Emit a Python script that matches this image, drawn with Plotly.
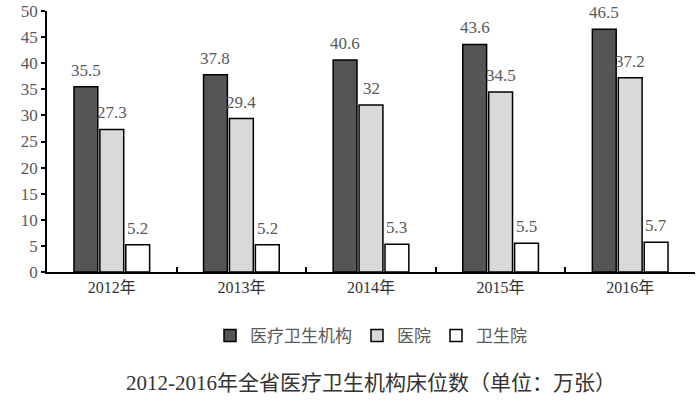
import plotly.graph_objects as go

years = ["2012年", "2013年", "2014年", "2015年", "2016年"]
series_names = ["医疗卫生机构", "医院", "卫生院"]
inst = [35.5, 37.8, 40.6, 43.6, 46.5]
hosp = [27.3, 29.4, 32, 34.5, 37.2]
town = [5.2, 5.2, 5.3, 5.5, 5.7]
colors = ["#555555", "#d9d9d9", "#ffffff"]

font_main = "Liberation Serif, Noto Sans CJK SC, serif"
gray = "#595959"

fig = go.Figure()
for name, vals, c in zip(series_names, [inst, hosp, town], colors):
    fig.add_trace(go.Bar(
        x=years, y=vals, name=name,
        marker=dict(color=c, line=dict(color="#000000", width=1.5)),
    ))

# value labels placed above each bar (offset within the group)
bargap = 0.4
group_px = 648 / len(years) * (1 - bargap)
slot = group_px / 3
annos = []
for i, vals in enumerate([inst, hosp, town]):
    for yr, v in zip(years, vals):
        annos.append(dict(x=yr, y=v, xref="x", yref="y", text=str(v),
                          showarrow=False, xanchor="center", yanchor="bottom",
                          xshift=(i - 1) * slot, yshift=5,
                          font=dict(family=font_main, size=17, color=gray)))
annos.append(dict(text="2012-2016年全省医疗卫生机构床位数（单位：万张）",
                  xref="paper", yref="paper", x=0.5, y=-0.425,
                  xanchor="center", yanchor="middle", showarrow=False,
                  font=dict(family=font_main, size=21, color="#333333")))

fig.update_layout(
    width=700, height=404,
    margin=dict(l=47, r=5, t=11, b=132, autoexpand=False),
    paper_bgcolor="white", plot_bgcolor="white",
    barmode="group", bargap=bargap, bargroupgap=0.08,
    font=dict(family=font_main, size=16, color=gray),
    showlegend=True,
    legend=dict(orientation="h", x=0.5, xanchor="center", y=-0.245, yanchor="middle",
                font=dict(family=font_main, size=17, color=gray),
                itemwidth=30, traceorder="normal"),
    annotations=annos,
)
fig.update_xaxes(
    showline=True, linecolor="#000000", linewidth=1.5,
    ticks="inside", tickson="boundaries", ticklen=5, tickcolor="#000000", tickwidth=1.5,
    tickfont=dict(family=font_main, size=16, color="#333333"),
    showgrid=False,
)
fig.update_yaxes(
    range=[0, 50], dtick=5,
    showline=True, linecolor="#000000", linewidth=1.5,
    ticks="outside", ticklen=4, tickcolor="#000000", tickwidth=1.5,
    tickfont=dict(family=font_main, size=17, color=gray),
    ticklabeloverflow="allow",
    showgrid=False, zeroline=False,
)

fig.write_html("out.html", config={"displayModeBar": False},
               post_script="document.body.style.margin='0';")
